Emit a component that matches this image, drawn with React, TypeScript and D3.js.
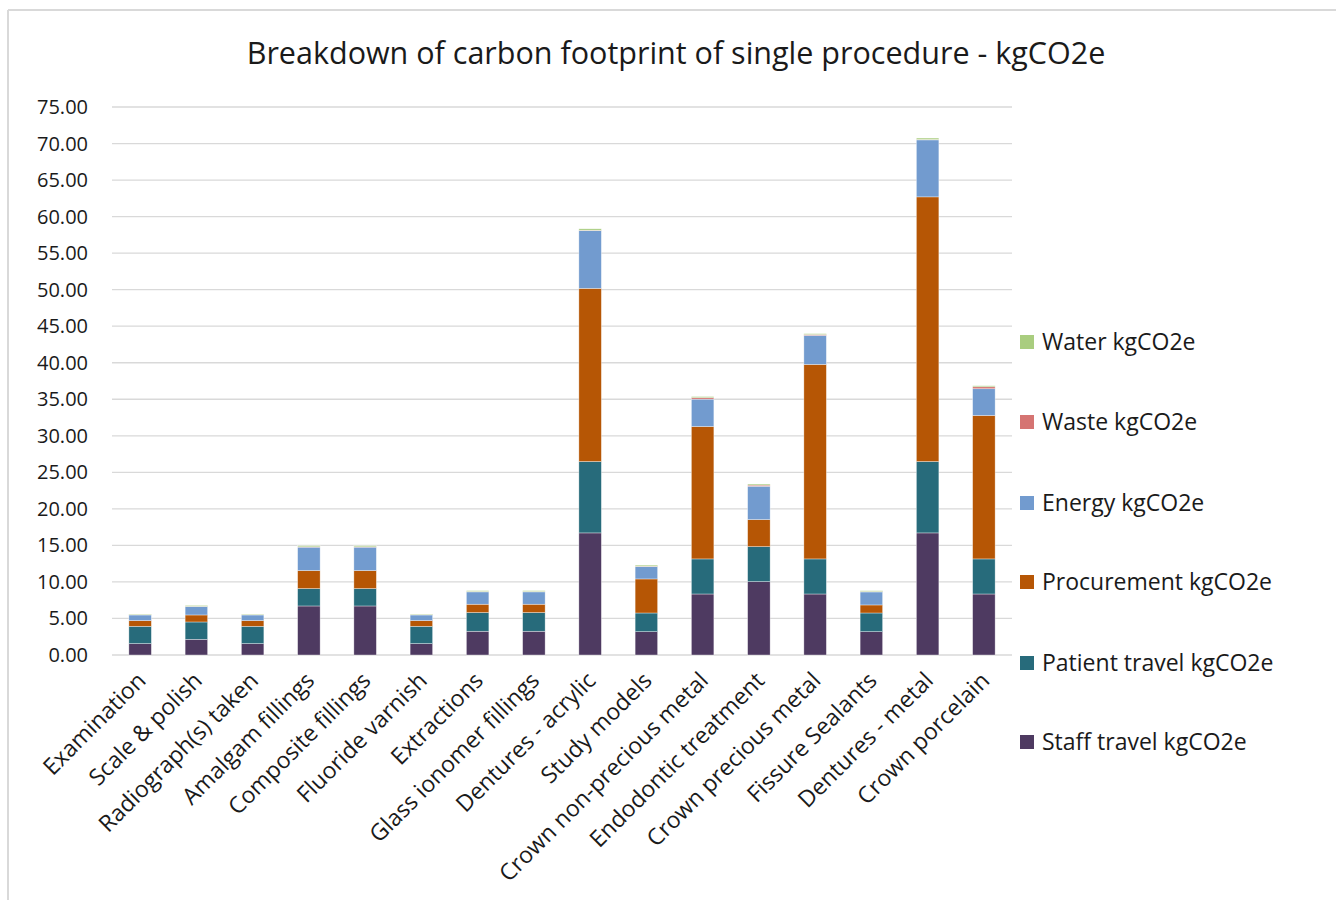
import * as d3 from "d3";

// procedures on the x axis
const procedures = [
  "Examination",
  "Scale & polish",
  "Radiograph(s) taken",
  "Amalgam fillings",
  "Composite fillings",
  "Fluoride varnish",
  "Extractions",
  "Glass ionomer fillings",
  "Dentures - acrylic",
  "Study models",
  "Crown non-precious metal",
  "Endodontic treatment",
  "Crown precious metal",
  "Fissure Sealants",
  "Dentures - metal",
  "Crown porcelain",
];

// values, kgCO2e
const staffTravel = [1.56, 2.15, 1.56, 6.71, 6.71, 1.56, 3.25, 3.25, 16.71, 3.19, 8.35, 10.04, 8.35, 3.19, 16.71, 8.35];
const patientTravel = [2.37, 2.37, 2.37, 2.38, 2.38, 2.37, 2.56, 2.56, 9.77, 2.56, 4.8, 4.79, 4.8, 2.56, 9.77, 4.8];
const procurement = [0.78, 0.96, 0.78, 2.47, 2.47, 0.78, 1.14, 1.14, 23.7, 4.66, 18.12, 3.7, 26.62, 1.1, 36.22, 19.63];
const energy = [0.77, 1.15, 0.77, 3.2, 3.2, 0.77, 1.69, 1.69, 7.9, 1.69, 3.75, 4.57, 3.97, 1.78, 7.8, 3.66];
const waste = [0.03, 0.03, 0.03, 0.05, 0.05, 0.03, 0.05, 0.05, 0.05, 0.05, 0.2, 0.15, 0.12, 0.05, 0.05, 0.27];
const water = [0.1, 0.12, 0.1, 0.15, 0.15, 0.1, 0.12, 0.12, 0.2, 0.15, 0.15, 0.15, 0.12, 0.12, 0.2, 0.14];

const seriesNames = [
  "Staff travel kgCO2e",
  "Patient travel kgCO2e",
  "Procurement kgCO2e",
  "Energy kgCO2e",
  "Waste kgCO2e",
  "Water kgCO2e",
];
const seriesValues = [staffTravel, patientTravel, procurement, energy, waste, water];
const seriesColors = ["#4e3a61", "#276b7b", "#b65605", "#729bcf", "#d57472", "#a9cd7f"];

const yTicks = d3.range(0, 80, 5);

const FONT = "'Open Sans', Lato, sans-serif";

export default function App() {
  const left = 112;
  const right = 1012;
  const top = 107;
  const bottom = 655;

  const x = d3.scaleBand<string>().domain(procedures).range([left, right]).paddingInner(0.6).paddingOuter(0.3);
  const y = d3.scaleLinear().domain([0, 75]).range([bottom, top]);

  const rows = procedures.map((p, i) => {
    const r: Record<string, number | string> = { name: p };
    seriesNames.forEach((s, k) => (r[s] = seriesValues[k][i]));
    return r;
  });
  const stacked = d3.stack<any>().keys(seriesNames)(rows as any);

  const legendY = [742, 663, 582, 503, 422, 342];

  return (
    <svg
      width={1336}
      height={900}
      style={{ position: "absolute", left: 0, top: 0, background: "#fff" }}
      fontFamily={FONT}
    >
      <line x1={8} y1={10} x2={1336} y2={10} stroke="#d9d9d9" strokeWidth={2} />
      <line x1={8} y1={10} x2={8} y2={900} stroke="#d9d9d9" strokeWidth={2} />

      <text x={676} y={64} textAnchor="middle" fontSize={30.5} fill="#1a1a1a">
        Breakdown of carbon footprint of single procedure - kgCO2e
      </text>

      {yTicks.map((t) => (
        <g key={t}>
          <line x1={left} x2={right} y1={y(t)} y2={y(t)} stroke="#d9d9d9" strokeWidth={1.3} />
          <text x={88} y={y(t)} dy="0.35em" textAnchor="end" fontSize={20} fill="#1a1a1a">
            {d3.format(".2f")(t)}
          </text>
        </g>
      ))}

      {stacked.map((layer, k) => (
        <g key={seriesNames[k]} fill={seriesColors[k]}>
          {layer.map((d, i) => (
            <rect
              key={i}
              x={x(procedures[i])}
              width={x.bandwidth()}
              y={y(d[1])}
              height={Math.max(0, y(d[0]) - y(d[1]))}
              stroke="#ffffff"
              strokeWidth={0.6}
              strokeOpacity={0.6}
            />
          ))}
        </g>
      ))}

      {procedures.map((p) => {
        const cx = (x(p) ?? 0) + x.bandwidth() / 2 + 7;
        const cy = 682;
        return (
          <text
            key={p}
            transform={`translate(${cx},${cy}) rotate(-45)`}
            textAnchor="end"
            fontSize={23}
            fill="#1a1a1a"
          >
            {p}
          </text>
        );
      })}

      {seriesNames.map((s, k) => (
        <g key={s} transform={`translate(1020,${legendY[k]})`}>
          <rect x={0} y={-7} width={14} height={14} fill={seriesColors[k]} />
          <text x={22} y={0} dy="0.35em" fontSize={23} fill="#1a1a1a">
            {s}
          </text>
        </g>
      ))}
    </svg>
  );
}
